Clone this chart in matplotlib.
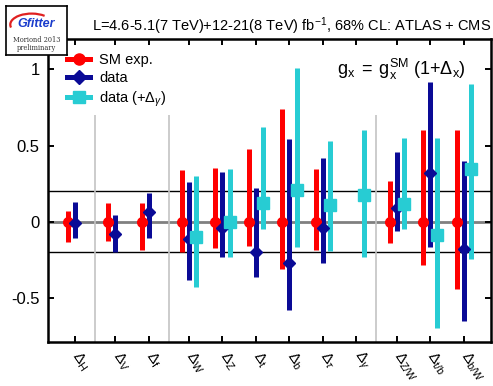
import numpy as np
import matplotlib
matplotlib.use("Agg")
import matplotlib.pyplot as plt
from matplotlib.lines import Line2D
from matplotlib.patches import Arc

plt.rcParams["font.family"] = ["Liberation Sans", "DejaVu Sans"]
plt.rcParams["mathtext.fontset"] = "custom"
plt.rcParams["mathtext.rm"] = "Liberation Sans"
plt.rcParams["mathtext.it"] = "Liberation Sans:italic"
plt.rcParams["mathtext.bf"] = "Liberation Sans:bold"

nan = np.nan

# coupling scale factors
categories = ["H", "V", "f", "W", "Z", "t", "b", r"\tau", r"\gamma", "Z/W", "t/b", "b/W"]
groups = [0, 1, 1, 2, 2, 2, 2, 2, 2, 3, 3, 3]

# SM expectation (centred at 0) with 68% CL band
sm_center = [0, 0, 0, 0, 0, 0, 0, 0, nan, 0, 0, 0]
sm_low = [-0.13, -0.125, -0.186, -0.20, -0.175, -0.16, -0.31, -0.186, nan, -0.14, -0.285, -0.44]
sm_high = [0.072, 0.12, 0.12, 0.34, 0.35, 0.48, 0.74, 0.347, nan, 0.27, 0.60, 0.60]

# fit to data
data_center = [-0.01, -0.08, 0.062, -0.115, -0.04, -0.20, -0.27, -0.04, nan, 0.092, 0.32, -0.18]
data_low = [-0.11, -0.20, -0.11, -0.38, -0.235, -0.365, -0.58, -0.27, nan, -0.06, -0.165, -0.65]
data_high = [0.13, 0.044, 0.19, 0.26, 0.325, 0.22, 0.545, 0.42, nan, 0.456, 0.915, 0.40]

# fit to data with free Delta_gamma
dg_center = [nan, nan, nan, -0.10, 0.0, 0.125, 0.21, 0.11, 0.175, 0.115, -0.09, 0.345]
dg_low = [nan, nan, nan, -0.43, -0.235, -0.048, -0.165, -0.19, -0.235, -0.045, -0.70, -0.245]
dg_high = [nan, nan, nan, 0.30, 0.345, 0.625, 1.01, 0.53, 0.60, 0.55, 0.55, 0.905]

yticks = [-0.5, 0, 0.5, 1]
ytick_labels = ["-0.5", "0", "0.5", "1"]

RED = "#ff0000"
NAVY = "#0a0a96"
CYAN = "#27ccd3"

x = np.arange(len(categories)) + 0.2 * np.array(groups)
separators = [(x[i] + x[i + 1]) / 2 for i in range(len(x) - 1) if groups[i] != groups[i + 1]]

fig = plt.figure(figsize=(4.93, 3.86), dpi=100)
ax = fig.add_axes([48 / 493, 44 / 386, 443 / 493, 303 / 386])
ax.set_xlim(-0.81, 12.42)
ax.set_ylim(-0.79, 1.2)

ax.axhline(0, color="#808080", lw=2, zorder=1)
for yv in (-0.2, 0.2):
    ax.axhline(yv, color="black", lw=1, zorder=1)
ax.vlines(separators, -0.79, 0.70, color="#c4c4c4", lw=1.2, zorder=1)


def draw(offset, center, low, high, marker, ms, color):
    c = np.array(center, float)
    lo = np.array(low, float)
    hi = np.array(high, float)
    eb = ax.errorbar(x + offset, c, yerr=[c - lo, hi - c], fmt=marker, ms=ms,
                     color=color, mec=color, elinewidth=3.6, capsize=0, zorder=3)
    eb[2][0].set_capstyle("butt")


draw(-0.21, sm_center, sm_low, sm_high, "o", 7, RED)
draw(0.0, data_center, data_low, data_high, "D", 6.5, NAVY)
draw(0.22, dg_center, dg_low, dg_high, "s", 8, CYAN)

ax.set_yticks(yticks, ytick_labels, fontsize=12)
ax.set_xticks(x, [r"$\Delta_{\mathrm{%s}}$" % c if "\\" not in c else r"$\Delta_{%s}$" % c
                  for c in categories], fontsize=11, rotation=-55, ha="left",
              va="center", rotation_mode="anchor")
ax.tick_params(direction="in", top=True, right=True, length=4, width=1.4)
ax.tick_params(axis="x", pad=8)
ax.tick_params(axis="y", pad=6)
for s in ax.spines.values():
    s.set_linewidth(1.8)

ax.text(1.0, 1.008, r"L=4.6-5.1(7 TeV)+12-21(8 TeV) fb$^{-1}$, 68% CL: ATLAS + CMS",
        transform=ax.transAxes, ha="right", va="bottom", fontsize=10.5)
ax.text(0.652, 0.898, r"$\mathrm{g_x\;=\;g_x^{SM}\ (1{+}\Delta_x)}$",
        transform=ax.transAxes, ha="left", va="center", fontsize=13)

handles = [
    Line2D([], [], color=RED, marker="o", ms=8, lw=3.6),
    Line2D([], [], color=NAVY, marker="D", ms=7, lw=3.6),
    Line2D([], [], color=CYAN, marker="s", ms=8, lw=3.6),
]
ax.legend(handles, ["SM exp.", "data", r"data (+$\Delta_{\gamma}$)"], loc="upper left",
          bbox_to_anchor=(0.043, 0.955), frameon=False, fontsize=10.5, borderpad=0,
          borderaxespad=0, handlelength=1.6, handletextpad=0.6, labelspacing=0.3)

# logo box
lax = fig.add_axes([6 / 493, 1 - 55 / 386, 61 / 493, 49 / 386], zorder=10)
lax.set_xlim(0, 1)
lax.set_ylim(0, 1)
lax.set_xticks([])
lax.set_yticks([])
lax.set_facecolor("white")
for s in lax.spines.values():
    s.set_linewidth(1.2)
lax.add_patch(Arc((0.42, 0.62), 0.7, 0.45, theta1=40, theta2=190, color="#e02020", lw=1.6))
lax.text(0.5, 0.63, "Gfitter", ha="center", va="center", fontsize=9, color="#1a3ccc",
         fontweight="bold", style="italic")
lax.text(0.5, 0.30, "Moriond 2013", ha="center", va="center", fontsize=4.8, color="#333333",
         family="DejaVu Serif")
lax.text(0.5, 0.14, "preliminary", ha="center", va="center", fontsize=4.8, color="#333333",
         family="DejaVu Serif")

fig.savefig("out.png", dpi=100)
